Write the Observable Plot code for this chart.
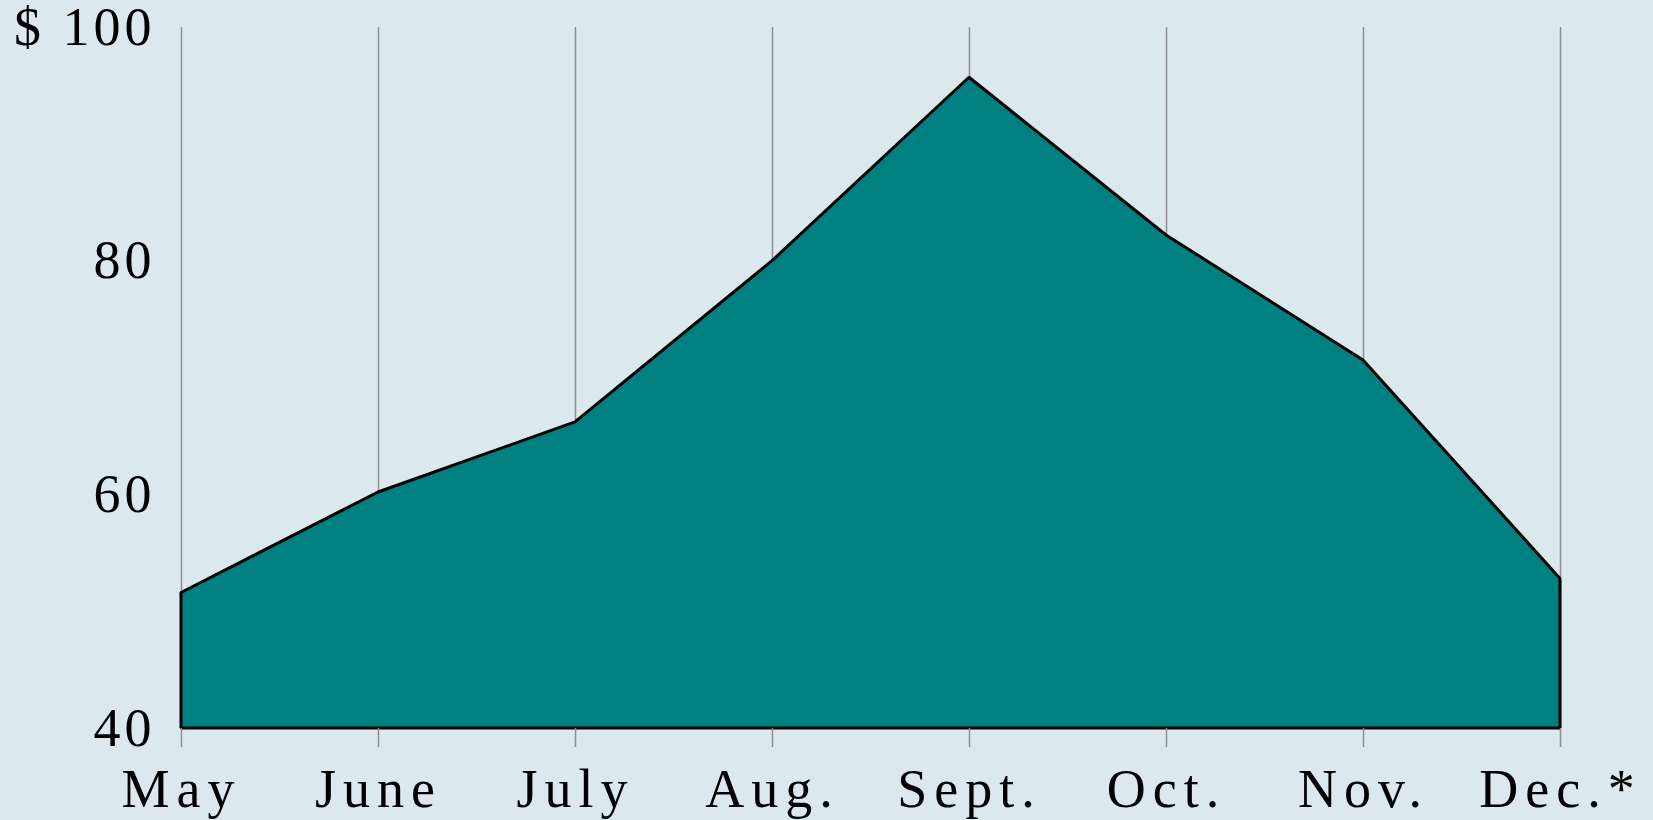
<!DOCTYPE html>
<html>
<head>
<meta charset="utf-8">
<script src="https://cdn.jsdelivr.net/npm/d3@7"></script>
<script src="https://cdn.jsdelivr.net/npm/@observablehq/plot@0.6"></script>
<style>
  html, body { margin: 0; padding: 0; background: #dbe9ee; overflow: hidden; }
  #chart svg { display: block; overflow: visible; }
</style>
</head>
<body>
<div id="chart"></div>
<script>
const months = ["May", "June", "July", "Aug.", "Sept.", "Oct.", "Nov.", "Dec.*"];
const prices = [51.6, 60.2, 66.2, 80.0, 95.7, 82.2, 71.5, 52.8];
const yTicks = [40, 60, 80, 100];
const yTickLabels = ["40", "60", "80", "$ 100"];

const data = months.map((m, i) => ({month: m, price: prices[i]}));
const font = "'Liberation Serif', 'Times New Roman', serif";

const chart = Plot.plot({
  width: 1653,
  height: 820,
  marginLeft: 179,
  marginRight: 91,
  marginTop: 27,
  marginBottom: 92,
  style: {background: "#dbe9ee", fontFamily: font, color: "black"},
  x: {type: "point", domain: months, padding: 0},
  y: {domain: [40, 100]},
  marks: [
    Plot.gridX(months, {stroke: "#8f8f8f", strokeOpacity: 1, strokeWidth: 1.5}),
    Plot.areaY(data, {x: "month", y1: 40, y2: "price", fill: "#008080", stroke: "black", strokeWidth: 3, strokeLinejoin: "miter"}),
    Plot.axisX(months, {tickSize: 19, tickPadding: 21, fontSize: 54, stroke: "#8f8f8f", strokeWidth: 1.5, fill: "black", label: null, fontFamily: font}),
    Plot.axisY(yTicks, {tickSize: 0, tickPadding: 24, tickFormat: (d) => yTickLabels[yTicks.indexOf(d)], fontSize: 54, fill: "black", label: null, fontFamily: font})
  ]
});
document.getElementById("chart").appendChild(chart);
chart.querySelectorAll('[aria-label="x-axis tick label"] text').forEach(t => t.style.letterSpacing = "7px");
chart.querySelectorAll('[aria-label="y-axis tick label"] text').forEach(t => t.style.letterSpacing = "4px");
</script>
</body>
</html>
